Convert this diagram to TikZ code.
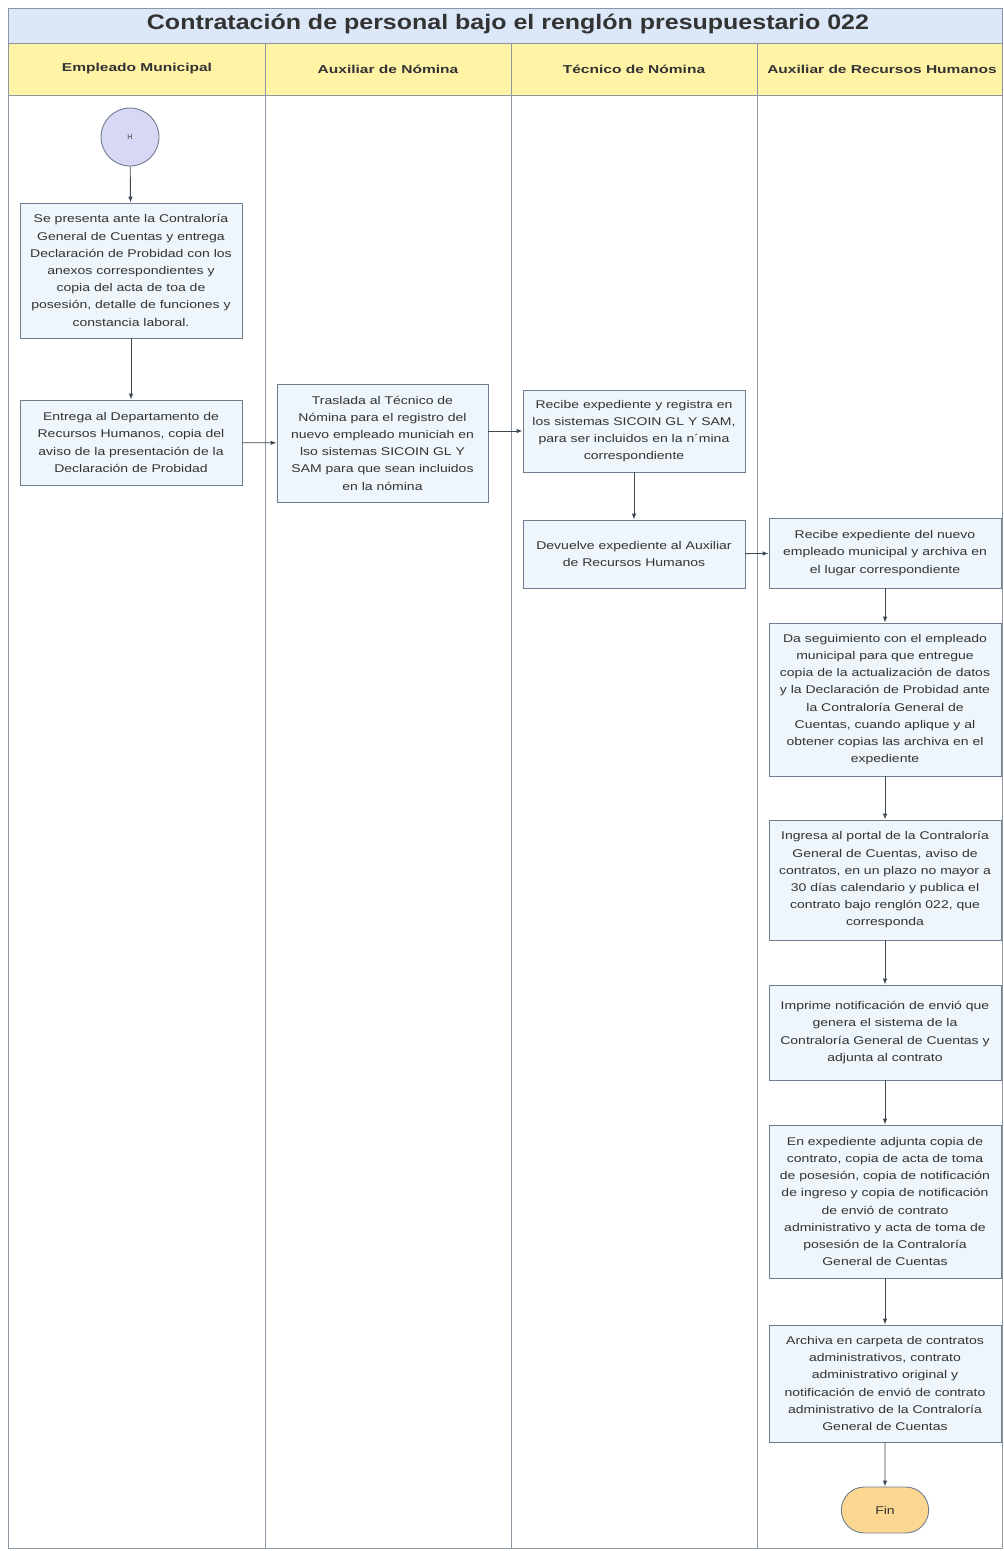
\documentclass[tikz,border=0pt]{standalone}
\usepackage{fontspec}
\setmainfont{Liberation Sans}
\newfontfamily\boxfont[FakeStretch=1.25]{Liberation Sans}
\newfontfamily\titlefont[FakeStretch=1.19]{Liberation Sans}
\newfontfamily\headfont[FakeStretch=1.35]{Liberation Sans}
\usetikzlibrary{arrows.meta,shapes.misc}
\definecolor{titlefill}{HTML}{DCE7F7}
\definecolor{headfill}{HTML}{FFF3A6}
\definecolor{lanedraw}{HTML}{8A96A3}
\definecolor{boxfill}{HTML}{EEF5FB}
\definecolor{boxdraw}{HTML}{6E7E8E}
\definecolor{startfill}{HTML}{D8D8F6}
\definecolor{finfill}{HTML}{FBD792}
\definecolor{txt}{HTML}{333333}
\definecolor{arrowc}{HTML}{3E4852}
\tikzset{
  x=1pt, y=-1pt,
  stepbox/.style={draw=boxdraw, fill=boxfill, line width=0.9pt, rectangle, align=center,
    inner sep=2pt, text=txt, font=\boxfont\fontsize{11.2}{17.2}\selectfont},
  flow/.style={draw=arrowc, line width=0.9pt, -{Latex[length=6pt,width=4.5pt]}},
  lane/.style={draw=lanedraw, line width=1pt},
  headtxt/.style={font=\headfont\fontsize{11.5}{14}\selectfont\bfseries, text=txt}
}
\begin{document}
\begin{tikzpicture}
\useasboundingbox (0,0) rectangle (1004,1551);
% frame
\fill[white] (8,95) rectangle (1002,1548);
\filldraw[fill=titlefill, lane] (8,8) rectangle (1002,43);
\filldraw[fill=headfill, lane] (8,43) rectangle (1002,95);
\draw[lane] (8,8) rectangle (1002,1548);
\foreach \xx in {265,511,757} \draw[lane] (\xx,43) -- (\xx,1548);
\draw[lane] (8,95) -- (1002,95);
\node[font=\titlefont\fontsize{21}{24}\selectfont\bfseries, text=txt] (title) at (508,24.5) {Contratación de personal bajo el renglón presupuestario 022};
\node[headtxt] (h1) at (137,69) {Empleado Municipal};
\node[headtxt] (h2) at (388,69) {Auxiliar de Nómina};
\node[headtxt] (h3) at (634,69) {Técnico de Nómina};
\node[headtxt] (h4) at (882,69) {Auxiliar de Recursos Humanos};

% nodes
\node[circle, draw=boxdraw, fill=startfill, line width=0.9pt, minimum size=58pt, inner sep=0pt, text=txt, font=\fontsize{7}{8}\selectfont] (start) at (130,137) {H};

\node[stepbox, minimum width=222pt, minimum height=135pt] (b1) at (131,270.5)
 {Se presenta ante la Contraloría\\General de Cuentas y entrega\\Declaración de Probidad con los\\anexos correspondientes y\\copia del acta de toa de\\posesión, detalle de funciones y\\constancia laboral.};
\node[stepbox, minimum width=222pt, minimum height=85pt] (b2) at (131,442.5)
 {Entrega al Departamento de\\Recursos Humanos, copia del\\aviso de la presentación de la\\Declaración de Probidad};
\node[stepbox, minimum width=211pt, minimum height=118pt] (b3) at (382.5,443)
 {Traslada al Técnico de\\Nómina para el registro del\\nuevo empleado municiah en\\lso sistemas SICOIN GL Y\\SAM para que sean incluidos\\en la nómina};
\node[stepbox, minimum width=222pt, minimum height=82pt] (b4) at (634,431)
 {Recibe expediente y registra en\\los sistemas SICOIN GL Y SAM,\\para ser incluidos en la n´mina\\correspondiente};
\node[stepbox, minimum width=222pt, minimum height=68pt] (b5) at (634,554)
 {Devuelve expediente al Auxiliar\\de Recursos Humanos};
\node[stepbox, minimum width=232pt, minimum height=70pt] (b6) at (885,553)
 {Recibe expediente del nuevo\\empleado municipal y archiva en\\el lugar correspondiente};
\node[stepbox, minimum width=232pt, minimum height=153pt] (b7) at (885,699.5)
 {Da seguimiento con el empleado\\municipal para que entregue\\copia de la actualización de datos\\y la Declaración de Probidad ante\\la Contraloría General de\\Cuentas, cuando aplique y al\\obtener copias las archiva en el\\expediente};
\node[stepbox, minimum width=232pt, minimum height=120pt] (b8) at (885,880)
 {Ingresa al portal de la Contraloría\\General de Cuentas, aviso de\\contratos, en un plazo no mayor a\\30 días calendario y publica el\\contrato bajo renglón 022, que\\corresponda};
\node[stepbox, minimum width=232pt, minimum height=95pt] (b9) at (885,1032.5)
 {Imprime notificación de envió que\\genera el sistema de la\\Contraloría General de Cuentas y\\adjunta al contrato};
\node[stepbox, minimum width=232pt, minimum height=153pt] (b10) at (885,1201.5)
 {En expediente adjunta copia de\\contrato, copia de acta de toma\\de posesión, copia de notificación\\de ingreso y copia de notificación\\de envió de contrato\\administrativo y acta de toma de\\posesión de la Contraloría\\General de Cuentas};
\node[stepbox, minimum width=232pt, minimum height=117pt] (b11) at (885,1383.5)
 {Archiva en carpeta de contratos\\administrativos, contrato\\administrativo original y\\notificación de envió de contrato\\administrativo de la Contraloría\\General de Cuentas};
\node[rounded rectangle, draw=boxdraw, fill=finfill, line width=0.9pt, minimum width=94pt, minimum height=46pt, text=txt, font=\boxfont\fontsize{11.2}{13}\selectfont] (fin) at (885,1510) {Fin};

% connectors
\draw[flow] (start) -- (b1);
\draw[flow] (b1) -- (b2);
\draw[flow] (b2) -- (b3);
\draw[flow] (b3.east |- b4.west) -- (b4.west);
\draw[flow] (b4) -- (b5);
\draw[flow] (b5) -- (b6);
\draw[flow] (b6) -- (b7);
\draw[flow] (b7) -- (b8);
\draw[flow] (b8) -- (b9);
\draw[flow] (b9) -- (b10);
\draw[flow] (b10) -- (b11);
\draw[flow] (b11) -- (fin);
\end{tikzpicture}
\end{document}
